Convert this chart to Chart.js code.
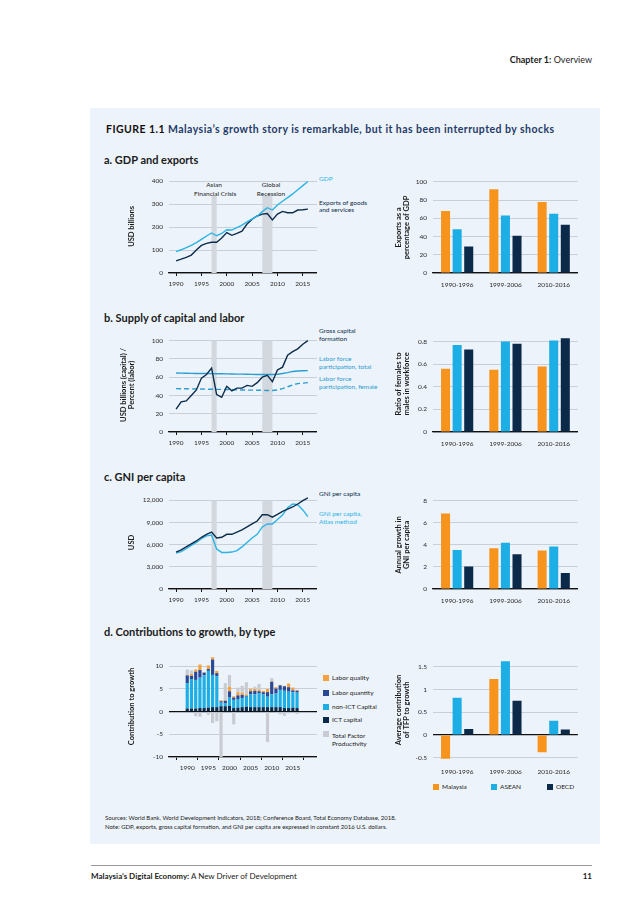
<!DOCTYPE html>
<html>
<head>
<meta charset="utf-8">
<script src="https://cdn.jsdelivr.net/npm/chart.js@4.4.0/dist/chart.umd.min.js"></script>
<style>
  body { margin: 0; width: 638px; height: 903px; background: #fff; position: relative; overflow: hidden;
         font-family: Lato, "Open Sans", sans-serif; color: #1b1b1b; }
  .t { position: absolute; white-space: nowrap; line-height: 1; }
  .box { position: absolute; }
  #panel { position: absolute; left: 90px; top: 108px; width: 510px; height: 736px; background: #edf3fa; }
  .sec { font-size: 11px; font-weight: bold; left: 104px; color: #1b1b1b; }
  .lab { font-size: 6.5px; left: 319px; }
  .sq { position: absolute; width: 6px; height: 6px; }
  .leg { font-size: 6.5px; }
</style>
</head>
<body>
<div id="panel"></div>

<div class="t" style="right:46px;top:55px;font-size:9px"><b>Chapter 1:</b> Overview</div>
<div class="t" style="left:106px;top:124px;font-size:10.5px;font-weight:bold;letter-spacing:0.45px;color:#1f3a68"><span style="color:#111">FIGURE 1.1</span> Malaysia’s growth story is remarkable, but it has been interrupted by shocks</div>

<div class="t sec" style="top:154px">a. GDP and exports</div>
<div class="t sec" style="top:312px">b. Supply of capital and labor</div>
<div class="t sec" style="top:471px">c. GNI per capita</div>
<div class="t sec" style="top:626px">d. Contributions to growth, by type</div>

<!-- panel a annotations -->
<div class="t" style="left:194px;top:180px;width:40px;text-align:center;font-size:6.5px;line-height:9px">Asian<br>Financial Crisis</div>
<div class="t" style="left:251px;top:180px;width:40px;text-align:center;font-size:6.5px;line-height:9px">Global<br>Recession</div>
<div class="t lab" style="top:176px;color:#2bb3e6">GDP</div>
<div class="t lab" style="top:199px;line-height:7px;color:#0c2c4c">Exports of goods<br>and services</div>

<div class="t lab" style="top:327px;line-height:8px;color:#0c2c4c">Gross capital<br>formation</div>
<div class="t lab" style="top:355px;line-height:8px;color:#2a9dd0">Labor force<br>participation, total</div>
<div class="t lab" style="top:375px;line-height:8px;color:#2a9dd0">Labor force<br>participation, female</div>

<div class="t lab" style="top:491px;color:#0c2c4c">GNI per capita</div>
<div class="t lab" style="top:510px;line-height:8px;color:#2bb3e6">GNI per capita,<br>Atlas method</div>

<!-- panel d legend (left) -->
<div class="sq" style="left:323px;top:675px;background:#f4a23c"></div><div class="t leg" style="left:332px;top:675px">Labor quality</div>
<div class="sq" style="left:323px;top:690px;background:#2b4896"></div><div class="t leg" style="left:332px;top:690px">Labor quantity</div>
<div class="sq" style="left:323px;top:704px;background:#1caee4"></div><div class="t leg" style="left:332px;top:704px">non-ICT Capital</div>
<div class="sq" style="left:323px;top:717px;background:#0b2a4a"></div><div class="t leg" style="left:332px;top:717px">ICT capital</div>
<div class="sq" style="left:323px;top:731px;background:#c8ccd2"></div><div class="t leg" style="left:332px;top:732px;line-height:8px">Total Factor<br>Productivity</div>

<!-- panel d legend (right) -->
<div class="sq" style="left:433px;top:784px;background:#f7941d"></div><div class="t leg" style="left:442px;top:784px">Malaysia</div>
<div class="sq" style="left:491px;top:784px;background:#1caee4"></div><div class="t leg" style="left:500px;top:784px">ASEAN</div>
<div class="sq" style="left:547px;top:784px;background:#0b2a4a"></div><div class="t leg" style="left:556px;top:784px">OECD</div>

<div class="t" style="left:105px;top:813px;font-size:6px;line-height:9px">Sources: World Bank, World Development Indicators, 2018; Conference Board, Total Economy Database, 2018.<br>Note: GDP, exports, gross capital formation, and GNI per capita are expressed in constant 2016 U.S. dollars.</div>

<div style="position:absolute;left:91px;top:865px;width:501px;height:1px;background:#9a9a9a"></div>
<div class="t" style="left:91px;top:872px;font-size:8px"><b>Malaysia’s Digital Economy:</b> A New Driver of Development</div>
<div class="t" style="right:46px;top:872px;font-size:8px;font-weight:bold">11</div>

<div class="box" style="left:115px;top:170px;width:202px;height:123px"><canvas id="aL"></canvas></div>
<div class="box" style="left:388px;top:172px;width:190px;height:123px"><canvas id="aR"></canvas></div>
<div class="box" style="left:115px;top:328px;width:202px;height:124px"><canvas id="bL"></canvas></div>
<div class="box" style="left:388px;top:326px;width:190px;height:128px"><canvas id="bR"></canvas></div>
<div class="box" style="left:115px;top:486px;width:202px;height:123px"><canvas id="cL"></canvas></div>
<div class="box" style="left:388px;top:491px;width:190px;height:120px"><canvas id="cR"></canvas></div>
<div class="box" style="left:115px;top:646px;width:202px;height:131px"><canvas id="dL"></canvas></div>
<div class="box" style="left:388px;top:650px;width:190px;height:132px"><canvas id="dR"></canvas></div>

<script>
// ---- data ----
const years = [1990, 1991, 1992, 1993, 1994, 1995, 1996, 1997, 1998, 1999, 2000, 2001, 2002, 2003,
               2004, 2005, 2006, 2007, 2008, 2009, 2010, 2011, 2012, 2013, 2014, 2015, 2016];
const yearTicks = [1990, 1995, 2000, 2005, 2010, 2015];
const crisisBands = [[1997, 1998], [2007, 2009]];

// a. USD billions
const gdp = [93, 101, 110, 120, 132, 146, 161, 174, 162, 172, 188, 187, 197, 208, 222, 235, 247, 267, 284, 274,
             296, 312, 328, 344, 362, 380, 398];
const exportsGS = [53, 60, 68, 78, 100, 120, 129, 134, 134, 152, 176, 164, 172, 182, 213, 234, 248, 256, 259, 231,
                   256, 268, 262, 262, 274, 275, 278];
// b. capital (USD billions) / labor (percent)
const grossCapital = [25, 33, 34, 40, 46, 59, 63, 70, 41, 38, 50, 45, 48, 48, 51, 50, 54, 60, 62, 55,
                      68, 71, 84, 88, 91, 96, 100];
const laborTotal = [64.5, 64.4, 64.3, 64.2, 64.1, 64, 64, 63.9, 63.8, 63.7, 63.6, 63.5, 63.4, 63.3, 63.2, 63.1,
                    63, 63, 63, 62.9, 63.2, 64, 65, 66.3, 66.8, 67, 67.2];
const laborFemale = [47.5, 47.4, 47.3, 47.2, 47.1, 47, 46.9, 46.8, 46.7, 46.6, 46.5, 46.3, 46.1, 46, 45.9, 45.8,
                     45.7, 45.6, 45.5, 45.5, 46, 47.5, 49.5, 51.5, 53, 53.5, 54];
// c. USD
const gniPc = [5000, 5300, 5700, 6100, 6500, 7000, 7400, 7700, 6900, 7000, 7400, 7400, 7700, 8000, 8400, 8800,
               9200, 10050, 10050, 9720, 10100, 10500, 10800, 11100, 11500, 11950, 12340];
const gniAtlas = [4850, 5050, 5450, 5900, 6300, 6800, 7200, 7300, 5400, 4950, 4950, 5000, 5200, 5700, 6300, 6900,
                  7400, 8400, 8800, 8800, 9400, 10000, 11000, 11500, 11400, 10700, 9800];
// d. contributions to growth
const ictCapital  = [0.7, 0.7, 0.7, 0.8, 0.8, 0.9, 1.0, 1.0, 1.2, 1.2, 1.3, 0.8, 0.9, 1.0, 1.1, 1.0, 1.0, 1.0, 1.0, 1.0,
                     1.0, 1.0, 1.0, 0.8, 0.8, 0.9, 0.8];
const nonIctCapital = [5.6, 6.5, 6.3, 6.7, 7.2, 8.1, 7.1, 6.8, 0.8, 0.6, 1.8, 1.8, 1.9, 2.0, 2.2, 2.8, 2.8, 3.1, 2.8, 2.3,
                       2.8, 3.0, 3.8, 3.8, 3.6, 3.4, 3.4];
const laborQuantity = [1.7, 0.7, 1.8, 1.7, 0.6, 0.4, 3.4, 0.7, 0.3, 0.6, 1.4, 0.5, 0.8, 0.7, 0.2, 0.7, 0.8, 0.4, 0.5, 1.0,
                       2.8, 1.1, 1.0, 1.0, 1.0, 0.4, 0.4];
const laborQuality = [0.1, 0.4, 0.5, 1.2, 0.1, 0.8, 0.5, 0.5, 0.2, 0.1, 1.0, 0.3, 0.7, 0.5, 0.3, 0.5, 0.4, 0.4, 0.3, 0.7,
                      0.1, 0.3, 0.1, 0.1, 0.8, 0.6, 0.2];
const tfp = [1.2, 0.8, -1.0, -1.1, 0, -0.7, -2.5, -2.1, -10.0, 3.8, 2.6, -2.8, 1.0, 1.5, 2.7, 0, 0.5, 1.2, -0.2, -6.7,
             0.7, -0.3, -0.6, -0.9, -0.4, -0.2, -0.5];

// right-hand bar charts
const periods = ['1990-1996', '1999-2006', '2010-2016'];
const exportsShareMY = [68, 92, 78], exportsShareASEAN = [48, 63, 65], exportsShareOECD = [29, 41, 53];
const femaleRatioMY = [0.56, 0.55, 0.58], femaleRatioASEAN = [0.77, 0.80, 0.81], femaleRatioOECD = [0.73, 0.78, 0.83];
const gniGrowthMY = [6.85, 3.7, 3.5], gniGrowthASEAN = [3.55, 4.2, 3.85], gniGrowthOECD = [2.05, 3.15, 1.45];
const tfpAvgMY = [-0.52, 1.23, -0.38], tfpAvgASEAN = [0.82, 1.62, 0.31], tfpAvgOECD = [0.13, 0.75, 0.12];

const ticksA = [0, 100, 200, 300, 400];
const ticksB = [0, 20, 40, 60, 80, 100];
const ticksC = [0, 3000, 6000, 9000, 12000];
const ticksD = [-10, -5, 0, 5, 10];
const ticksAR = [0, 20, 40, 60, 80, 100];
const ticksBR = [0, 0.2, 0.4, 0.6, 0.8];
const ticksCR = [0, 2, 4, 6, 8];
const ticksDR = [-0.5, 0, 0.5, 1, 1.5];

// ---- colours ----
const ORANGE = '#f7941d', CYAN = '#1caee4', NAVY = '#0b2a4a';

Chart.defaults.font.family = 'Lato, "Open Sans", sans-serif';
Chart.defaults.font.size = 6.5;
Chart.defaults.color = '#2a2a2a';
Chart.defaults.animation = false;
Chart.defaults.plugins.legend.display = false;
Chart.defaults.plugins.tooltip.enabled = false;

// grey shading for the crisis years
const bandPlugin = {
  id: 'bands',
  beforeDatasetsDraw(chart, args, opts) {
    if (!opts.ranges) return;
    const { ctx, chartArea, scales } = chart;
    const yTop = scales.y.getPixelForValue(opts.top);
    ctx.save();
    ctx.fillStyle = '#d3d7de';
    opts.ranges.forEach(r => {
      const x0 = scales.x.getPixelForValue(r[0]);
      const x1 = scales.x.getPixelForValue(r[1]);
      ctx.fillRect(x0, yTop, x1 - x0, chartArea.bottom - yTop);
    });
    ctx.restore();
  }
};

function setTicks(list) { return scale => { scale.ticks = list.map(v => ({ value: v })); }; }
function fixWidth(w) { return scale => { scale.width = w; }; }
function fixHeight(h) { return scale => { scale.height = h; }; }

function yAxis(min, max, ticks, width, title, titlePad) {
  return {
    min: min, max: max,
    afterBuildTicks: setTicks(ticks),
    afterFit: fixWidth(width),
    border: { display: false },
    grid: {
      drawTicks: false,
      color: c => (c.tick && c.tick.value === 0) ? '#111' : '#b9bec6',
      lineWidth: c => (c.tick && c.tick.value === 0) ? 1.2 : 0.7
    },
    ticks: { padding: 6, callback: v => v.toLocaleString('en-US') },
    title: { display: true, text: title, color: '#1b1b1b',
             padding: { top: titlePad, bottom: 0 }, font: { size: 7.5, weight: 'bold', lineHeight: 1.1 } }
  };
}

function yearAxis(height) {
  return {
    type: 'linear', min: 1988.6, max: 2017.8,
    afterBuildTicks: setTicks(yearTicks),
    afterFit: fixHeight(height),
    border: { color: '#111', width: 1.2 },
    grid: { drawOnChartArea: false, color: '#111', tickLength: 3 },
    ticks: { padding: 4, callback: v => String(v) }
  };
}

function line(label, data, color, dash) {
  return { label: label, data: data, borderColor: color, borderWidth: 1.4, pointRadius: 0,
           borderDash: dash || [], fill: false, tension: 0 };
}

function lineChart(id, datasets, yOpts, bandTop, padTop) {
  return new Chart(document.getElementById(id), {
    type: 'line',
    data: { labels: years, datasets: datasets },
    options: {
      responsive: true, maintainAspectRatio: false,
      layout: { padding: { top: padTop, right: 0, left: 0, bottom: 0 } },
      scales: { x: yearAxis(20), y: yOpts },
      plugins: { bands: { ranges: crisisBands, top: bandTop } }
    },
    plugins: [bandPlugin]
  });
}

function groupBars(id, my, asean, oecd, yOpts, padTop, showBorder) {
  const bar = (label, data, color) => ({ label: label, data: data, backgroundColor: color,
                                         categoryPercentage: 0.72, barPercentage: 0.78 });
  return new Chart(document.getElementById(id), {
    type: 'bar',
    data: { labels: periods, datasets: [bar('Malaysia', my, ORANGE), bar('ASEAN', asean, CYAN), bar('OECD', oecd, NAVY)] },
    options: {
      responsive: true, maintainAspectRatio: false,
      layout: { padding: { top: padTop, right: 0, left: 0, bottom: 0 } },
      scales: {
        x: { afterFit: fixHeight(22), grid: { display: false, drawTicks: false },
             border: showBorder ? { color: '#111', width: 1.2 } : { display: false },
             ticks: { padding: 8 } },
        y: yOpts
      }
    }
  });
}

// a
lineChart('aL', [line('GDP', gdp, '#2bb3e6'), line('Exports of goods and services', exportsGS, '#0c2c4c')],
  yAxis(0, 405, ticksA, 54, 'USD billions', 12), 335, 6);
groupBars('aR', exportsShareMY, exportsShareASEAN, exportsShareOECD,
  yAxis(0, 100, ticksAR, 45, ['Exports as a', 'percentage of GDP'], 6.5), 5, true);

// b
lineChart('bL', [line('Gross capital formation', grossCapital, '#0c2c4c'),
                 line('Labor force participation, total', laborTotal, '#2a9dd0'),
                 line('Labor force participation, female', laborFemale, '#2a9dd0', [5, 3])],
  yAxis(0, 103, ticksB, 54, ['USD billions (capital) /', 'Percent (labor)'], 4), 100, 5.1);
groupBars('bR', femaleRatioMY, femaleRatioASEAN, femaleRatioOECD,
  yAxis(0, 0.85, ticksBR, 45, ['Ratio of females to', 'males in workforce'], 6.5), 5.1, true);

// c
lineChart('cL', [line('GNI per capita', gniPc, '#0c2c4c'), line('GNI per capita, Atlas method', gniAtlas, '#2bb3e6')],
  yAxis(0, 12600, ticksC, 54, 'USD', 12), 12000, 5.4);
groupBars('cR', gniGrowthMY, gniGrowthASEAN, gniGrowthOECD,
  yAxis(0, 8, ticksCR, 45, ['Annual growth in', 'GNI per capita'], 6.5), 5, true);

// d
const stack = (label, data, color) => ({ label: label, data: data, backgroundColor: color,
                                         categoryPercentage: 1, barPercentage: 0.75 });
new Chart(document.getElementById('dL'), {
  type: 'bar',
  data: {
    labels: years,
    datasets: [
      stack('ICT capital', ictCapital, '#0b2a4a'),
      stack('non-ICT Capital', nonIctCapital, '#1caee4'),
      stack('Labor quantity', laborQuantity, '#2b4896'),
      stack('Labor quality', laborQuality, '#f4a23c'),
      stack('Total Factor Productivity', tfp, '#c8ccd2')
    ]
  },
  options: {
    responsive: true, maintainAspectRatio: false,
    layout: { padding: { top: 5.1, right: 0, left: 0, bottom: 0 } },
    scales: {
      x: Object.assign(yearAxis(20), { stacked: true }),
      y: Object.assign(yAxis(-10, 12.3, ticksD, 54, 'Contribution to growth', 12), { stacked: true })
    }
  }
});
groupBars('dR', tfpAvgMY, tfpAvgASEAN, tfpAvgOECD,
  yAxis(-0.55, 1.65, ticksDR, 45, ['Average contribution', 'of TFP to growth'], 6.5), 4.9, false);
</script>
</body>
</html>
